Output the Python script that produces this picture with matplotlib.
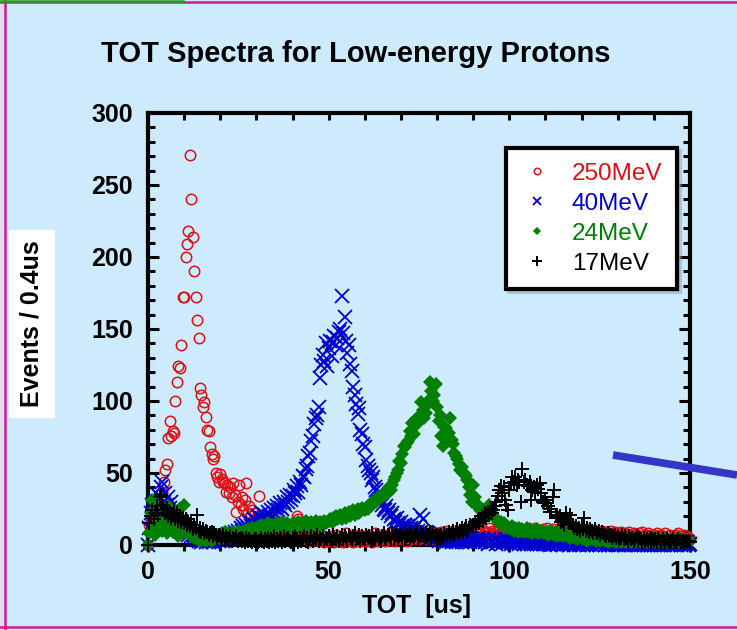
import numpy as np
import matplotlib.pyplot as plt
from matplotlib.lines import Line2D
from matplotlib.patches import Rectangle

plt.rcParams['font.family'] = ['Liberation Sans', 'DejaVu Sans']

# counts per 0.4 us TOT bin, bins start at 0 us
bin_width = 0.4

counts_250 = [
    0, 14, 18, 20, 16, 22, 19, 24, 21, 28, 37, 44, 52, 56, 74, 86, 76, 79, 78, 100, 113, 124, 123, 139, 172,
    172, 200, 209, 218, 271, 240, 214, 190, 172, 156, 144, 109, 104, 96, 99, 89, 80, 79, 68, 63, 60, 62, 50, 47, 44,
    49, 46, 44, 43, 37, 42, 36, 40, 33, 43, 35, 23, 30, 42, 28, 33, 25, 31, 43, 22, 27, 20, 24, 18, 22,
    15, 20, 34, 14, 19, 12, 16, 10, 14, 9, 12, 17, 8, 11, 7, 10, 13, 6, 9, 12, 13, 8, 10, 6, 9,
    14, 7, 11, 20, 18, 9, 6, 10, 5, 8, 4, 7, 3, 6, 5, 8, 4, 6, 3, 5, 7, 4, 2, 5, 3,
    4, 6, 3, 5, 2, 7, 4, 3, 6, 5, 2, 4, 8, 3, 5, 4, 6, 2, 5, 3, 7, 4, 5, 3, 6,
    5, 3, 7, 4, 6, 2, 5, 8, 4, 3, 6, 5, 4, 7, 3, 5, 6, 4, 8, 5, 3, 6, 4, 7, 5,
    6, 4, 8, 5, 3, 7, 6, 4, 9, 5, 6, 8, 4, 7, 5, 9, 6, 4, 7, 8, 5, 6, 9, 4, 7,
    8, 5, 7, 9, 6, 4, 8, 10, 6, 7, 5, 9, 7, 8, 6, 10, 5, 7, 9, 6, 8, 11, 7, 6, 9,
    7, 10, 6, 8, 9, 5, 11, 7, 8, 6, 9, 12, 7, 8, 10, 6, 9, 7, 11, 8, 6, 10, 8, 7, 9,
    10, 7, 9, 8, 12, 6, 9, 11, 7, 8, 10, 9, 6, 11, 8, 7, 10, 9, 12, 8, 7, 10, 9, 11, 8,
    9, 12, 7, 10, 8, 11, 9, 7, 10, 8, 12, 9, 6, 10, 8, 9, 11, 7, 9, 8, 10, 7, 9, 11, 8,
    7, 10, 8, 9, 6, 11, 8, 7, 9, 10, 6, 8, 9, 7, 10, 8, 6, 9, 7, 8, 10, 6, 8, 9, 7,
    8, 6, 9, 7, 5, 8, 7, 6, 9, 5, 7, 8, 6, 7, 5, 8, 6, 9, 5, 7, 6, 8, 5, 7, 6,
    7, 5, 8, 6, 4, 7, 6, 5, 8, 4, 6, 7, 5, 6, 4, 7, 5, 8, 6, 4, 5, 7, 3, 6, 5,
    4,
]

counts_40 = [
    0, 12, 22, 28, 25, 31, 27, 35, 33, 40, 44, 30, 36, 28, 33, 26, 30, 22, 25, 18, 21, 16, 14, 17, 12,
    11, 9, 10, 7, 8, 6, 5, 7, 4, 5, 3, 4, 2, 3, 4, 2, 3, 2, 4, 3, 2, 3, 4, 5, 3,
    4, 5, 3, 6, 4, 7, 5, 6, 8, 6, 9, 7, 10, 8, 12, 10, 13, 11, 14, 12, 16, 13, 15, 18, 14,
    17, 20, 15, 19, 22, 18, 21, 16, 23, 20, 24, 19, 26, 22, 27, 24, 29, 26, 25, 30, 28, 33, 30, 35, 31,
    34, 38, 36, 41, 37, 44, 42, 48, 47, 53, 55, 62, 64, 72, 76, 84, 88, 90, 96, 116, 125, 132, 128, 140, 124,
    137, 142, 131, 141, 145, 139, 144, 148, 150, 173, 147, 158, 142, 133, 139, 126, 121, 110, 104, 98, 91, 95, 80, 77, 70,
    68, 59, 55, 52, 50, 45, 47, 40, 38, 36, 30, 32, 28, 25, 24, 27, 22, 24, 20, 22, 18, 16, 19, 15, 14,
    16, 13, 12, 14, 11, 13, 10, 12, 9, 11, 8, 14, 10, 21, 9, 18, 7, 9, 6, 8, 5, 7, 6, 5, 4,
    5, 3, 6, 4, 3, 5, 2, 4, 3, 5, 2, 4, 3, 2, 4, 3, 5, 2, 3, 4, 2, 3, 5, 2, 4,
    3, 2, 4, 3, 5, 2, 3, 4, 2, 3, 1, 4, 2, 3, 2, 4, 1, 3, 2, 3, 1, 2, 4, 2, 3,
    2, 1, 3, 2, 1, 3, 2, 1, 2, 3, 1, 2, 1, 3, 2, 1, 2, 1, 3, 1, 2, 1, 2, 1, 2,
    1, 2, 1, 0, 2, 1, 1, 2, 0, 1, 2, 1, 0, 1, 2, 1, 0, 1, 1, 2, 0, 1, 1, 0, 2,
    1, 0, 1, 2, 0, 1, 1, 0, 2, 1, 0, 1, 1, 0, 1, 2, 0, 1, 0, 1, 1, 0, 2, 1, 0,
    1, 0, 1, 1, 0, 2, 0, 1, 1, 0, 1, 0, 1, 2, 0, 1, 0, 1, 0, 1, 1, 0, 1, 0, 1,
    0, 1, 2, 0, 1, 0, 1, 0, 1, 1, 0, 2, 0, 1, 0, 1, 0, 1, 1, 0, 1, 0, 1, 2, 0,
    1,
]

counts_24 = [
    0, 8, 22, 31, 12, 7, 26, 18, 14, 24, 10, 16, 22, 8, 27, 13, 20, 9, 17, 24, 11, 6, 14, 19, 8,
    28, 15, 12, 14, 9, 6, 10, 5, 8, 4, 6, 3, 5, 4, 6, 3, 5, 7, 4, 3, 6, 5, 4, 7, 5,
    6, 8, 5, 9, 7, 6, 8, 5, 7, 9, 6, 8, 7, 10, 8, 9, 7, 10, 8, 11, 9, 10, 12, 9, 11,
    12, 10, 13, 11, 14, 12, 10, 13, 15, 11, 12, 14, 13, 11, 15, 12, 14, 13, 16, 12, 14, 15, 13, 11, 14,
    13, 15, 12, 14, 16, 13, 15, 12, 14, 17, 13, 15, 14, 16, 12, 15, 17, 14, 13, 16, 15, 14, 17, 15, 16,
    17, 18, 16, 19, 17, 20, 18, 19, 21, 18, 20, 22, 19, 21, 23, 20, 22, 24, 21, 23, 25, 22, 24, 26, 25,
    24, 26, 25, 28, 27, 30, 29, 31, 30, 33, 32, 34, 33, 36, 35, 37, 36, 40, 38, 42, 45, 47, 50, 52, 58,
    57, 63, 69, 68, 71, 72, 79, 76, 85, 77, 87, 84, 88, 90, 99, 94, 88, 92, 97, 100, 113, 107, 100, 104, 112,
    96, 86, 90, 76, 69, 82, 81, 74, 78, 88, 73, 70, 64, 62, 60, 56, 52, 54, 50, 49, 48, 45, 40, 35, 30,
    42, 33, 29, 27, 26, 24, 25, 22, 23, 21, 24, 28, 25, 22, 20, 19, 18, 17, 15, 16, 14, 15, 13, 14, 12,
    12, 11, 13, 10, 12, 11, 9, 12, 10, 11, 9, 10, 12, 9, 11, 10, 8, 10, 9, 11, 8, 9, 10, 8, 9,
    8, 9, 7, 10, 8, 9, 7, 8, 6, 9, 7, 8, 6, 7, 8, 6, 7, 5, 6, 7, 5, 6, 4, 5, 6,
    5, 4, 6, 5, 3, 5, 4, 6, 4, 5, 3, 4, 5, 3, 4, 5, 3, 4, 2, 4, 3, 5, 3, 4, 2,
    4, 3, 2, 4, 3, 5, 2, 3, 4, 2, 3, 4, 2, 3, 2, 4, 3, 2, 3, 4, 2, 3, 2, 3, 4,
    2, 3, 4, 2, 3, 2, 3, 4, 2, 3, 2, 3, 2, 4, 3, 2, 3, 2, 4, 3, 2, 3, 2, 3, 2,
    3,
]

counts_17 = [
    0, 15, 20, 24, 18, 22, 27, 21, 33, 35, 28, 24, 22, 26, 20, 23, 19, 21, 24, 18, 22, 17, 20, 16, 19,
    15, 18, 14, 16, 13, 15, 11, 14, 12, 21, 10, 12, 9, 11, 8, 10, 9, 7, 8, 9, 6, 8, 7, 5, 7,
    6, 5, 7, 4, 6, 5, 4, 6, 3, 5, 4, 6, 3, 4, 5, 3, 4, 2, 5, 3, 4, 3, 2, 4, 3,
    4, 2, 3, 5, 3, 2, 4, 3, 5, 2, 4, 3, 6, 2, 4, 3, 5, 4, 2, 6, 3, 4, 5, 3, 2,
    5, 3, 6, 4, 2, 5, 3, 4, 6, 3, 5, 2, 4, 6, 3, 5, 4, 7, 3, 5, 4, 6, 3, 5, 4,
    6, 4, 3, 7, 5, 4, 6, 3, 5, 7, 4, 6, 5, 3, 7, 5, 4, 6, 8, 4, 5, 7, 3, 6, 5,
    4, 7, 5, 6, 3, 8, 5, 4, 6, 7, 5, 3, 6, 8, 4, 5, 7, 6, 4, 8, 5, 6, 7, 4, 6,
    7, 5, 8, 4, 6, 7, 5, 9, 6, 4, 7, 8, 5, 6, 9, 7, 5, 8, 6, 7, 9, 5, 8, 6, 7,
    5, 6, 4, 7, 5, 8, 6, 7, 9, 6, 8, 10, 7, 9, 11, 8, 10, 12, 9, 11, 13, 10, 12, 14, 13,
    14, 16, 13, 17, 15, 18, 20, 17, 22, 19, 23, 21, 25, 22, 24, 27, 30, 34, 38, 41, 36, 40, 31, 28, 24,
    38, 43, 47, 44, 47, 42, 45, 44, 30, 53, 44, 45, 42, 41, 44, 31, 38, 40, 37, 42, 39, 43, 36, 30, 29,
    31, 29, 27, 23, 25, 33, 38, 21, 20, 19, 20, 16, 17, 14, 22, 18, 15, 21, 15, 14, 12, 13, 11, 12, 10,
    13, 11, 19, 10, 12, 9, 11, 10, 8, 11, 9, 8, 10, 7, 9, 8, 7, 6, 8, 6, 7, 5, 6, 7, 5,
    6, 4, 5, 7, 4, 6, 5, 3, 6, 4, 5, 3, 4, 6, 3, 5, 4, 2, 5, 3, 4, 3, 5, 2, 4,
    3, 4, 2, 5, 3, 2, 4, 3, 2, 4, 3, 2, 3, 4, 2, 3, 2, 4, 3, 2, 3, 2, 3, 2, 3,
    2,
]

labels = ['250MeV', '40MeV', '24MeV', '17MeV']

for c in (counts_250, counts_40, counts_24, counts_17):
    assert len(c) == 376, len(c)
tot_us = np.arange(376) * bin_width

bg = '#cdebfd'
W, H = 737, 630

fig = plt.figure(figsize=(W / 100, H / 100), dpi=100)
fig.patch.set_facecolor(bg)

# axes box in pixels: x 148..690, y 113..545
ax = fig.add_axes([148 / W, 1 - 545 / H, 542 / W, 432 / H])
ax.set_facecolor('none')

ax.plot(tot_us, counts_250, ls='none', marker='o', ms=7.5, mfc='none', mew=1.1,
        color='#e01010', label=labels[0], clip_on=False, zorder=3)
ax.plot(tot_us, counts_40, ls='none', marker='x', ms=9.5, mew=1.3,
        color='#0000d0', label=labels[1], clip_on=False, zorder=4)
ax.plot(tot_us, counts_24, ls='none', marker='D', ms=7, mew=0,
        color='#007f00', label=labels[2], clip_on=False, zorder=5)
ax.plot(tot_us, counts_17, ls='none', marker='+', ms=10.5, mew=1.4,
        color='black', label=labels[3], clip_on=False, zorder=6)

ax.set_xlim(0, 150)
ax.set_ylim(0, 300)
ax.set_xticks([0, 50, 100, 150])
ax.set_xticks(np.arange(0, 151, 10), minor=True)
ax.set_yticks(np.arange(0, 301, 50))
ax.set_yticks(np.arange(0, 301, 10), minor=True)

for s in ax.spines.values():
    s.set_linewidth(3)
ax.spines['top'].set_visible(False)
ax.spines['right'].set_visible(False)

ax.tick_params(axis='x', which='major', direction='out', length=5, width=2.2, pad=6, labelsize=18)
ax.tick_params(axis='x', which='minor', direction='out', length=4, width=2.2)
ax.tick_params(axis='y', which='major', direction='in', length=8, width=2.2, pad=11, labelsize=18)
ax.tick_params(axis='y', which='minor', direction='in', length=5, width=2.2)
for lbl in ax.get_xticklabels() + ax.get_yticklabels():
    lbl.set_fontweight('bold')

top = ax.secondary_xaxis('top')
top.set_xticks(np.arange(0, 151, 10))
top.tick_params(direction='in', length=5, width=2.2, labeltop=False)
top.spines['top'].set_linewidth(3)

right = ax.secondary_yaxis('right')
right.set_yticks(np.arange(0, 301, 50))
right.set_yticks(np.arange(0, 301, 10), minor=True)
right.tick_params(which='major', direction='in', length=8, width=2.2, labelright=False)
right.tick_params(which='minor', direction='in', length=5, width=2.2)
right.spines['right'].set_linewidth(3)

leg = ax.legend(loc='upper right', bbox_to_anchor=(677 / W, 1 - 148 / H),
                bbox_transform=fig.transFigure, borderaxespad=0, fontsize=17.5,
                labelcolor='linecolor', fancybox=False, markerscale=0.62,
                shadow={'color': '#8ea2b2'}, handlelength=1.3, handletextpad=0.8,
                labelspacing=0.33, borderpad=0.6)
leg.get_frame().set_edgecolor('black')
leg.get_frame().set_linewidth(3)
leg.set_zorder(20)

fig.text(356 / W, 1 - 62 / H, 'TOT Spectra for Low-energy Protons', ha='center',
         va='baseline', fontsize=21, fontweight='bold')
fig.text(417 / W, 1 - 606 / H, 'TOT  [us]', ha='center', va='center',
         fontsize=18, fontweight='bold')
fig.text(32 / W, 1 - 324 / H, 'Events / 0.4us', rotation=90, ha='center', va='center',
         fontsize=18, fontweight='bold',
         bbox=dict(facecolor='white', edgecolor='none', pad=8))

# slide decorations
fig.add_artist(Rectangle((0, 0), 4 / W, 1, transform=fig.transFigure,
                         facecolor='#e2dcee', edgecolor='none'))
for xs, ys in [([5 / W, 5 / W], [0, 1]), ([0, 1], [1 - 2 / H, 1 - 2 / H]),
               ([0, 1], [1 - 627 / H, 1 - 627 / H])]:
    fig.add_artist(Line2D(xs, ys, transform=fig.transFigure, color='#d4169b', lw=1.8))
fig.add_artist(Line2D([0, 183 / W], [1 - 1 / H, 1 - 1 / H], transform=fig.transFigure,
                      color='#1aa61a', lw=1.8))
fig.add_artist(Line2D([613 / W, 1.0], [1 - 455 / H, 1 - 475 / H], transform=fig.transFigure,
                      color='#3535c8', lw=5.5, solid_capstyle='butt', zorder=10))

fig.savefig('out.png', dpi=100, facecolor=fig.get_facecolor())
